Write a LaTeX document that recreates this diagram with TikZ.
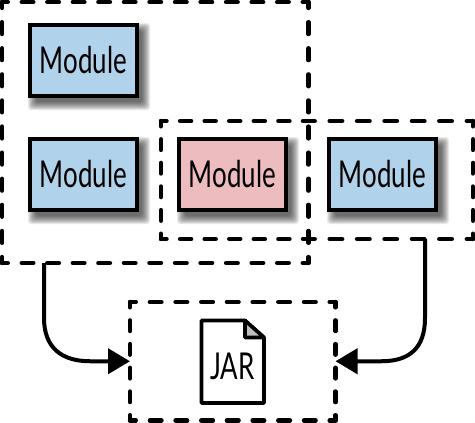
\documentclass[tikz,border=0pt]{standalone}
\usepackage{fontspec}
\usetikzlibrary{arrows.meta,calc}
\newfontfamily\lab[FakeStretch=0.7]{Lato}
\definecolor{modblue}{HTML}{B0D2EA}
\definecolor{modpink}{HTML}{EDBCBF}
\definecolor{foldgrey}{HTML}{BEBEBE}
\tikzset{
  x=1pt,y=-1pt,
  modbox/.style={draw=black,line width=4.4pt,minimum width=107pt,minimum height=71pt,inner sep=0pt,font=\lab\fontsize{37}{37}\selectfont,text=black},
  groupbox/.style={inner sep=0pt,outer sep=0pt},
  side/.style={line width=4.4pt,line cap=round},
  link/.style={line width=4pt,-{Triangle[length=22pt,width=25pt]}},
}
% soft shadow + module node
\newcommand{\modnode}[4]{%
  \foreach \e in {6,5,4,3,2,1,0,-1,-2}{
    \fill[black,opacity=0.085,rounded corners=3pt]
      ({#2-55.5+6-\e},{#3-37.5+6-\e}) rectangle ({#2+55.5+5+\e},{#3+37.5+6+\e});
  }
  \node[modbox,fill=#4] (#1) at (#2,#3) {Module};
}
% one side of a dashed group box: half a dash sits at each corner
\newcommand{\dside}[2]{%
  \draw[side] let \p1=($(#1)-(#2)$), \n1={veclen(\x1,\y1)}, \n2={\n1/max(1,round(\n1/25.7))},
      \n3={\n2/2-1.2pt}, \n4={\n2/2+1.2pt} in
    [dash pattern=on \n3 off \n4,dash phase={\n3/2}] (#1) -- (#2);
}
\newcommand{\dnode}[5]{%
  \node[groupbox,minimum width={#4-#2 pt},minimum height={#5-#3 pt}] (#1) at ({(#2+#4)/2},{(#3+#5)/2}) {};
}
\newcommand{\dtopbot}[1]{%
  \dside{#1.north west}{#1.north east}
  \dside{#1.south west}{#1.south east}
}
\begin{document}
\begin{tikzpicture}
\useasboundingbox (0,0) rectangle (475,423);
\fill[white] (0,0) rectangle (475,423);
\modnode{ma}{83.5}{60.5}{modblue}
\modnode{mb}{83.5}{174.5}{modblue}
\modnode{mc}{232.5}{174.5}{modpink}
\modnode{md}{382.5}{174.5}{modblue}
\dnode{outer}{2}{2}{308.5}{263}
\dnode{inner}{161}{121}{308.5}{239}
\dnode{right}{308.5}{121}{473}{239}
\dnode{jar}{130}{302}{335.5}{420.5}
\dtopbot{outer}
\dside{outer.north west}{outer.south west}
\dside{outer.north east}{outer.south east}
\dtopbot{inner}
\dside{inner.north west}{inner.south west}
\dtopbot{right}
\dside{right.north east}{right.south east}
\dtopbot{jar}
\dside{jar.north west}{jar.south west}
\dside{jar.north east}{jar.south east}
% file icon
\fill[white,draw=black,line width=3.6pt,line join=round] (201.5,320.5) -- (245,320.5) -- (264,337.5) -- (264,403) -- (201.5,403) -- cycle;
\fill[foldgrey,draw=black,line width=3.6pt,line join=round] (245,320.5) -- (264,337.5) -- (245,337.5) -- cycle;
\node[font=\lab\fontsize{37}{37}\selectfont,inner sep=0pt] (jarlabel) at (232.5,366.5) {JAR};
% connectors
\draw[link] ([xshift=42pt]outer.south west) -- ++(0,55) .. controls ++(0,30) and ++(-28,0) .. ([xshift=-40pt]jar.west) -- (jar.west);
\draw[link] ([xshift=-48pt]right.south east) -- ++(0,79) .. controls ++(0,30) and ++(28,0) .. ([xshift=46pt]jar.east) -- (jar.east);
\end{tikzpicture}
\end{document}
